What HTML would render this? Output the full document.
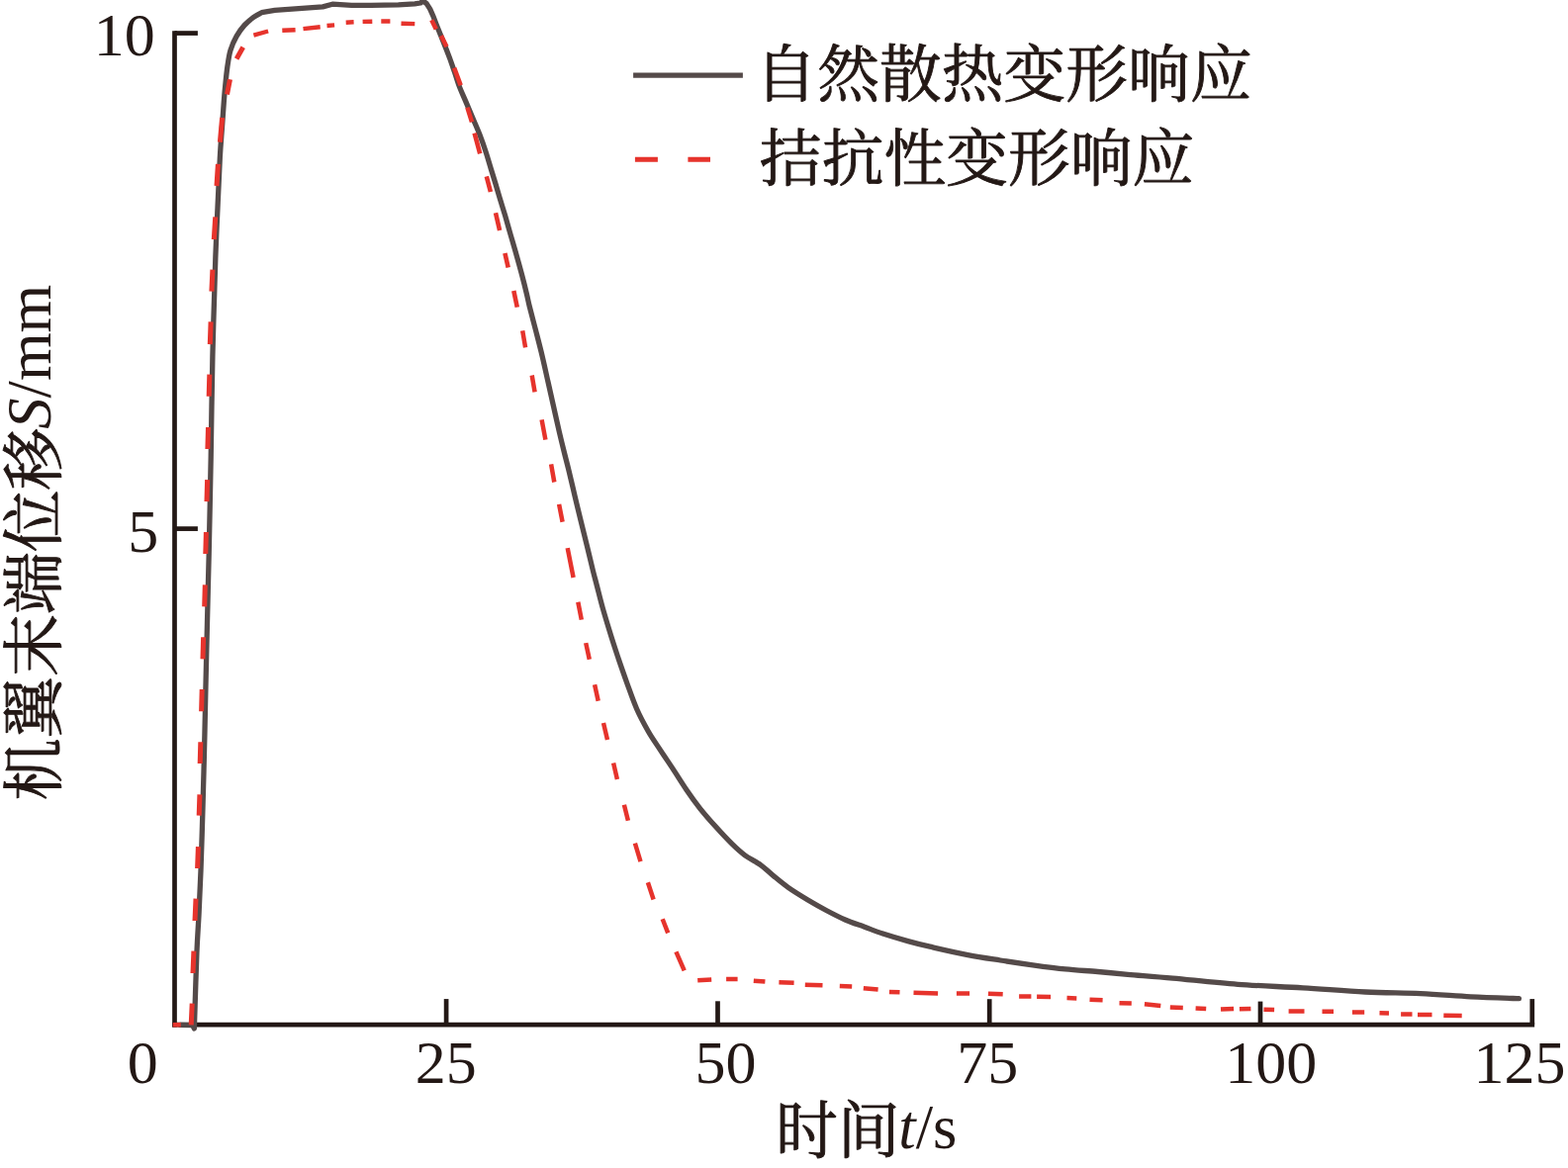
<!DOCTYPE html>
<html lang="zh"><head><meta charset="utf-8"><title>机翼末端位移响应曲线</title>
<style>
html,body{margin:0;padding:0;background:#fff}
body{width:1585px;height:1181px;overflow:hidden;font-family:"Liberation Serif",serif}
svg{display:block}
</style></head>
<body>
<svg width="1585" height="1181" viewBox="0 0 1585 1181" role="img" aria-labelledby="ct cd">
<title id="ct">机翼末端位移 S/mm 随时间 t/s 变化曲线</title>
<desc id="cd">横轴: 时间 t/s (0, 25, 50, 75, 100, 125); 纵轴: 机翼末端位移 S/mm (0, 5, 10); 图例: 自然散热变形响应 (灰色实线), 拮抗性变形响应 (红色虚线)</desc>
<rect width="1585" height="1181" fill="#fff"/>
<g stroke="#231815" stroke-width="4.7" fill="none" stroke-linecap="butt">
<path d="M176.5,31.2 V1038.55"/>
<path d="M174.15,1036.2 H1551.15"/>
<path d="M1548.8,1010.1 V1036.2"/>
<path d="M176.5,33.55 H199.9"/>
<path d="M176.5,534.6 H199.9"/>
<path d="M451.1,1010.1 V1036.2"/>
<path d="M725.5,1012.3 V1036.2"/>
<path d="M1000.2,1010.2 V1036.2"/>
<path d="M1274.0,1012.6 V1036.2"/>
</g>
<path d="M182.5,1036.4 L194.6,1036.6 L196.4,1040.0 L196.7,1030.0 C197.1,1019.0 198.2,981.3 198.9,963.8 C199.6,946.3 200.3,939.0 201.0,925.0 C201.7,911.0 202.4,895.8 203.0,880.0 C203.6,864.2 204.1,846.7 204.6,830.0 C205.1,813.3 205.5,798.3 206.0,780.0 C206.5,761.7 207.0,739.7 207.4,720.0 C207.8,700.3 208.1,688.4 208.7,661.7 C209.3,635.0 210.4,593.3 211.2,560.0 C211.9,526.7 212.6,495.0 213.2,461.7 C213.8,428.4 214.1,393.3 214.9,360.0 C215.7,326.7 217.0,286.7 217.8,261.7 C218.7,236.7 219.2,226.9 220.0,210.0 C220.8,193.1 221.6,173.2 222.3,160.0 C223.0,146.8 223.6,140.5 224.3,131.0 C225.0,121.5 225.8,110.2 226.3,103.0 C226.9,95.8 227.0,93.8 227.6,88.0 C228.2,82.2 228.9,74.2 229.8,68.0 C230.7,61.8 231.4,56.0 233.0,50.8 C234.6,45.6 236.7,40.8 239.1,36.6 C241.5,32.4 244.3,28.6 247.2,25.4 C250.1,22.2 253.5,19.4 256.4,17.3 C259.3,15.2 263.1,13.5 264.5,12.7 L277.8,10.4 L305.5,8.3 L326.3,6.9 L336.0,4.2 L355.5,5.3 L374.9,5.3 L402.7,4.9 L419.3,3.9 L425.1,3.0 L427.6,0.8 L431.2,3.6 L434.7,9.1 L438.3,17.3 C439.1,19.5 441.5,25.8 443.4,30.5 C445.3,35.2 447.6,41.0 449.5,45.7 C451.4,50.4 452.9,54.3 454.6,58.9 C456.3,63.5 457.9,68.3 459.6,73.2 C461.3,78.1 462.8,83.5 464.7,88.4 C466.6,93.3 468.7,97.6 470.8,102.6 C472.9,107.5 475.0,112.6 477.3,118.1 C479.6,123.6 482.4,129.8 484.7,135.6 C486.9,141.4 488.9,146.9 490.8,152.8 C492.8,158.7 494.5,165.0 496.4,171.1 C498.3,177.2 500.6,184.6 502.0,189.4 C503.4,194.2 503.7,195.2 505.1,200.0 C506.6,204.8 508.8,212.0 510.7,218.3 C512.5,224.6 514.4,231.2 516.2,237.6 C518.1,244.0 519.9,250.3 521.8,256.9 C523.7,263.5 525.6,270.4 527.4,277.2 C529.2,284.0 531.2,292.1 532.5,297.6 C533.8,303.1 533.7,303.7 535.3,310.0 C536.9,316.3 539.7,326.9 541.9,335.4 C544.1,343.9 546.3,352.3 548.3,360.8 C550.3,369.3 552.1,377.7 554.0,386.2 C555.9,394.7 557.8,403.1 559.7,411.6 C561.6,420.1 563.6,429.3 565.4,437.0 C567.2,444.7 568.9,451.6 570.5,458.0 C572.1,464.4 573.2,468.3 574.9,475.4 C576.6,482.5 578.9,492.3 580.9,500.8 C582.9,509.3 584.9,517.7 587.0,526.2 C589.1,534.7 591.2,543.1 593.3,551.6 C595.4,560.1 597.8,570.6 599.4,577.0 C601.0,583.4 601.1,583.6 602.8,590.0 C604.5,596.4 607.0,606.9 609.4,615.4 C611.8,623.9 614.4,632.3 617.0,640.8 C619.6,649.3 622.4,657.7 625.2,666.2 C628.1,674.7 631.0,683.1 634.1,691.6 C637.2,700.1 640.2,709.0 643.7,717.0 C647.2,725.0 651.4,732.6 655.3,739.5 C659.2,746.4 663.2,751.8 667.3,758.1 C671.4,764.4 675.5,770.3 680.0,777.1 C684.5,783.9 689.4,791.9 694.0,798.7 C698.6,805.5 703.0,811.6 707.9,817.8 C712.8,823.9 717.9,829.7 723.2,835.6 C728.5,841.5 734.9,848.4 739.8,853.2 C744.7,858.0 747.8,861.0 752.7,864.6 C757.6,868.2 764.3,871.3 769.2,874.8 C774.1,878.3 777.2,881.8 781.9,885.6 C786.5,889.4 791.4,893.6 797.1,897.6 C802.8,901.6 809.9,905.9 816.2,909.7 C822.6,913.5 828.9,917.1 835.2,920.5 C841.6,923.9 847.9,927.2 854.3,930.0 C860.6,932.8 866.9,934.7 873.3,937.0 C879.6,939.3 885.0,941.6 892.4,944.0 C899.8,946.4 909.9,949.4 917.8,951.6 C925.7,953.8 929.9,954.9 940.0,957.2 C950.1,959.5 966.5,963.3 978.4,965.6 C990.3,967.9 1000.3,969.3 1011.2,971.0 C1022.1,972.7 1033.0,974.3 1044.0,975.8 C1055.0,977.3 1066.0,978.8 1076.9,979.9 C1087.9,981.0 1099.2,981.6 1109.7,982.5 C1120.2,983.4 1127.3,984.2 1140.0,985.3 C1152.7,986.4 1167.1,987.4 1185.6,989.1 C1204.1,990.8 1229.3,993.7 1251.2,995.3 C1273.1,996.9 1295.4,997.6 1316.9,998.9 C1338.4,1000.2 1360.2,1002.0 1380.0,1003.0 C1399.8,1004.0 1418.0,1003.8 1435.8,1004.6 C1453.6,1005.4 1470.0,1006.9 1486.6,1007.8 C1503.2,1008.6 1527.3,1009.4 1535.5,1009.7" stroke="#544a49" stroke-width="5.3" fill="none" stroke-linejoin="round" stroke-linecap="round"/>
<g stroke="#e6332c" fill="none" stroke-linecap="butt">
<path stroke-width="4.6" d="M174.7,1036.2L182.8,1036.2"/>
<path stroke-width="5.0" d="M193.2,1036.4L194.2,1014.7 M195.0,984.0L195.9,961.7 M197.0,931.0L198.0,908.6 M199.6,878.0L200.4,856.2 M201.2,824.7L201.9,803.4 M202.2,772.0L202.8,750.2 M203.6,719.3L204.2,697.0 M205.0,666.4L205.6,644.2 M206.7,613.4L207.3,591.4 M207.8,560.0L208.4,538.0 M209.0,507.1L209.6,485.1 M209.9,454.0L210.5,432.0 M211.2,400.7L211.8,378.6 M212.3,348.1L213.1,325.3 M213.9,294.7L214.9,272.7 M216.3,242.2L217.7,219.3 M219.0,188.0L220.4,165.9 M222.4,143.7L224.6,119.0 M229.5,95.5L232.5,80.3 M239.1,59.5L245.7,47.8"/>
<path stroke-width="4.4" d="M256.4,35.6L271.1,31.5 M285.3,30.8L298.6,30.2 M306.5,29.1L323.7,27.3 M330.5,26.0L338.1,25.4 M349.7,22.7L357.6,22.3 M366.6,21.9L376.3,21.7 M385.3,21.5L394.4,21.5 M405.5,23.7L419.3,24.1"/>
<path stroke-width="4.6" d="M436.3,20.3L440.8,29.5 M445.9,36.1L451.5,47.3 M459.1,68.6L465.7,86.4 M472.4,108.6L477.0,123.4 M479.6,134.6L485.2,155.4 M491.8,178.3L495.9,194.0 M501.0,215.2L505.1,233.0 M510.4,255.9L513.7,270.6 M519.3,294.0L522.8,310.6"/>
<path stroke-width="4.5" d="M528.2,334.4L531.1,351.3 M537.7,379.5L540.6,396.3 M547.6,424.3L551.4,444.6 M557.1,469.3L560.3,487.5 M565.1,509.9L568.6,527.7 M573.7,554.1L579.6,584.0 M584.3,608.8L587.8,626.6 M592.2,650.1L595.8,666.8 M601.1,692.2L604.7,708.7 M610.0,731.1L614.0,747.9 M620.1,771.4L623.9,787.9 M630.9,813.7L634.9,829.8 M641.9,852.7L647.5,871.2 M654.9,892.2L660.6,909.5 M669.7,929.3L675.2,943.4 M683.4,962.3L691.7,981.3"/>
<path stroke-width="4.5" d="M705.2,991.2L719.2,990.4 M734.1,990.1L745.6,990.1 M761.8,991.7L773.4,992.6 M787.4,993.2L802.6,993.7 M813.8,995.7L831.5,996.2 M848.8,997.0L861.2,997.5 M872.8,999.2L887.6,1000.6 M898.9,1002.9L909.5,1003.3 M923.5,1003.8L948.1,1004.5 M966.9,1004.5L980.1,1004.5 M998.9,1004.7L1013.7,1005.3 M1030.1,1007.4L1042.4,1007.4 M1048.1,1007.8L1062.1,1007.9 M1078.5,1009.1L1088.3,1009.4 M1101.5,1010.7L1114.6,1011.2 M1131.5,1014.2L1143.8,1014.5 M1156.9,1015.3L1173.3,1016.9 M1182.8,1018.6L1195.8,1019.1 M1208.6,1019.4L1219.2,1019.9 M1234.0,1020.6L1247.1,1019.9 M1252.9,1020.2L1264.4,1019.9 M1277.5,1020.7L1288.1,1021.0 M1302.6,1022.4L1318.5,1022.4 M1336.5,1022.7L1348.0,1022.7 M1366.9,1023.5L1379.2,1023.5 M1394.5,1024.3L1404.0,1024.5 M1416.1,1025.6L1427.5,1025.6 M1433.0,1025.9L1447.5,1025.9 M1459.3,1026.8L1477.7,1027.1"/>
</g>
<path d="M640.1,76.2 H750.9" stroke="#544a49" stroke-width="5.2" fill="none"/>
<path d="M641.9,161.35 H664.9 M695.4,161.35 H718.0" stroke="#e6332c" stroke-width="5.0" fill="none"/>
<g fill="#231815" style="font-family:'Liberation Serif','Noto Serif CJK SC',serif">
<text x="128.65" y="1095" font-size="62">0</text>
<text x="419.85" y="1095" font-size="62">25</text>
<text x="702.55" y="1095" font-size="62">50</text>
<text x="967.35" y="1095" font-size="62">75</text>
<text x="1238.3" y="1095" font-size="62">100</text>
<text x="1489.5" y="1095" font-size="62">125</text>
<text x="94.8" y="56.1" font-size="62">10</text>
<text x="129.3" y="557.7" font-size="62">5</text>
<text x="908.3" y="1160.5" font-size="62.5"><tspan font-style="italic">t</tspan>/s</text>
<text x="-433.7" y="0" font-size="62.5" transform="translate(51.4,0) rotate(-90)"><tspan font-style="italic">S</tspan>/mm</text>
</g>
<g fill="#231815" stroke="#231815" stroke-width="0.9" stroke-linejoin="round" style="font-family:'Liberation Serif','Noto Serif CJK SC',serif">
<text x="763.35" y="96.71" font-size="62.8">自然散热变形响应</text>
<text x="767.85" y="182.01" font-size="62.8">拮抗性变形响应</text>
<text x="784" y="1165.21" font-size="62.8">时间</text>
<text x="-809.46" y="4.91" font-size="62.8" transform="translate(51.4,0) rotate(-90)">机翼末端位移</text>
</g>
</svg>
</body></html>
